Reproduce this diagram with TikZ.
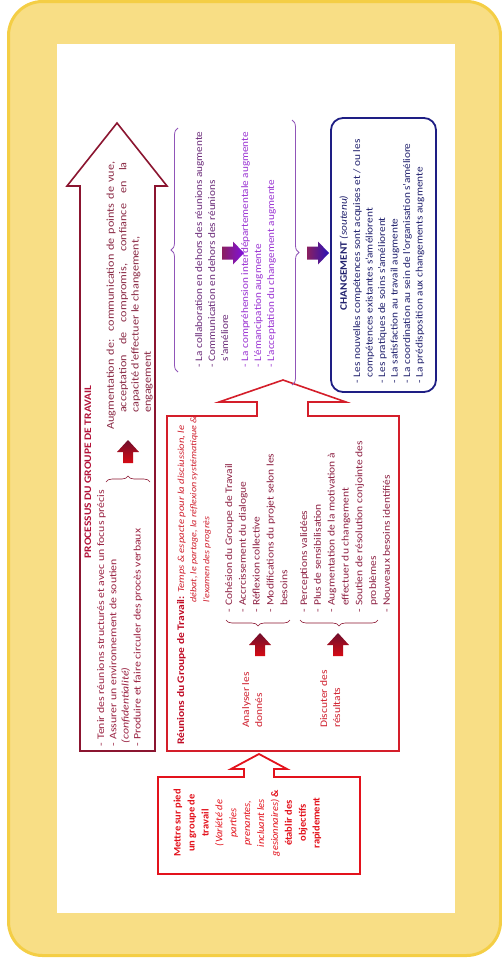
\documentclass[tikz,border=0pt]{standalone}
\usepackage{fontspec}
\setmainfont{Carlito}
\usetikzlibrary{decorations.pathreplacing}
\definecolor{framefill}{HTML}{F8DE85}
\definecolor{frameline}{HTML}{F4CE45}
\definecolor{maroonA}{HTML}{8B1530}
\definecolor{crimsonA}{HTML}{B3143A}
\definecolor{maroontxt}{HTML}{9A2342}
\definecolor{augtxt}{HTML}{8A2A45}
\definecolor{redB}{HTML}{D41E2A}
\definecolor{redC}{HTML}{E3121C}
\definecolor{redtxt}{HTML}{D0202E}
\definecolor{redbold}{HTML}{C00A24}
\definecolor{listtxt}{HTML}{8E2244}
\definecolor{arrdark}{HTML}{6E0F2C}
\definecolor{arrred}{HTML}{D60A14}
\definecolor{purpdark}{HTML}{6A2A78}
\definecolor{purpbright}{HTML}{9A32D2}
\definecolor{purpbrace}{HTML}{9055B8}
\definecolor{navyA}{HTML}{1E1E84}
\definecolor{navytxt}{HTML}{22226E}
\definecolor{pmaroon}{HTML}{8A2060}
\definecolor{pviolet}{HTML}{8010E0}
\definecolor{pblue}{HTML}{2A12B8}
\newcommand{\bul}{\makebox[6pt][l]{-}}
\newcommand{\indt}{\hspace*{6pt}}
\begin{document}
\begin{tikzpicture}[x=1pt,y=-1pt,
  txt/.style={rotate=90,inner sep=0pt,align=left,anchor=north west},
  bigline/.style={line width=1.6pt,line join=miter},
  thinbrace/.style={line width=0.6pt,decorate,decoration={brace,amplitude=6pt}},
  pbrace/.style={purpbrace,line width=0.8pt,decorate,decoration={brace,amplitude=7pt}},
  uparrow/.pic={\shade[top color=arrdark,bottom color=arrred]
     (0,-11.5) -- (11,0.5) -- (5,0.5) -- (5,11.5) -- (-5,11.5) -- (-5,0.5) -- (-11,0.5) -- cycle;},
  rarrowA/.pic={\shade[left color=pmaroon,right color=pviolet]
     (11,0) -- (0,-11.5) -- (0,-6.5) -- (-11,-6.5) -- (-11,6.5) -- (0,6.5) -- (0,11.5) -- cycle;},
  rarrowB/.pic={\shade[left color=pmaroon,right color=pblue]
     (11,0) -- (0,-11.5) -- (0,-6.5) -- (-11,-6.5) -- (-11,6.5) -- (0,6.5) -- (0,11.5) -- cycle;}
]
\useasboundingbox (0,0) rectangle (502,962);
% frame
\draw[frameline,fill=framefill,line width=3pt,rounded corners=34pt] (8.5,1.5) rectangle (500.5,955.5);
\fill[white] (57,44) rectangle (455,913);

% ---------- arrow 1 : processus ----------
\draw[maroonA,bigline] (80,751) -- (80,186) -- (67,186) -- (117,123) -- (167,186) -- (155,186) -- (155,751) -- cycle;
\node[rotate=90,xscale=1.14,inner sep=0pt,font=\fontsize{10}{12}\selectfont\bfseries,text=crimsonA] (ptitle) at (88,472) {PROCESSUS DU GROUPE DE TRAVAIL};
\node[txt,xscale=1.18,font=\fontsize{10}{12.2}\selectfont,text=maroontxt] (plist) at (97,747)
 {\bul Tenir des réunions structurés et avec un focus précis\\
  \bul Assurer un environnement de soutien\\
  \hspace*{3pt}\textit{(confidentialité)}\\
  \bul Produire et faire circuler des procès verbaux};
\draw[maroonA,thinbrace] (106,482) -- (150,482);
\pic at (128,451.5) {uparrow};
\node[txt,xscale=1.16,font=\fontsize{10.5}{12.3}\selectfont,text=augtxt] (paug) at (106.5,430)
 {\makebox[231pt][s]{Augmentation de:\ \ communication de points de vue,}\\
  \hspace*{14.6pt}\makebox[216pt][s]{acceptation de compromis, confiance en la}\\
  \hspace*{14.6pt}capacité d'effectuer le changement,\\
  \hspace*{14.6pt}engagement};

% ---------- arrow 2 : réunions ----------
\draw[redB,bigline] (167,751) -- (167,416) -- (257,416) -- (257,402) -- (219,402) -- (283,380) -- (346,402) -- (308,402) -- (308,416) -- (399,416) -- (399,751) -- cycle;
\node[txt,xscale=1.15,font=\fontsize{10}{13}\selectfont\bfseries,text=redbold] (rlab) at (177,745)
 {Réunions du Groupe de Travail:};
\node[rotate=90,xscale=1.15,inner sep=0pt,anchor=base west,xshift=2.5pt,font=\fontsize{9.3}{13}\selectfont\itshape,text=redtxt] (rit1) at (rlab.base east)
 {Temps \& espacte pour la disciussion, le};
\node[txt,xscale=1.15,font=\fontsize{8.8}{13}\selectfont\itshape,text=redtxt] (rit2) at (190,603)
 {débat, le partage, la réflexion systématique \&\\ l'examen des progrès};
\node[txt,xscale=1.15,font=\fontsize{10}{13}\selectfont,text=redtxt] (ranal) at (242,728) {Analyser les\\donnés};
\pic at (260,644.5) {uparrow};
\draw[maroonA,thinbrace] (290,620) -- (226,620);
\node[txt,xscale=1.15,font=\fontsize{10}{13.8}\selectfont,text=listtxt] (rlistA) at (225,613)
 {\bul Cohésion du Groupe de Travail\\
  \bul Accrcissement du dialogue\\
  \bul Réflexion collective\\
  \bul Modifications du projet selon les\\
  \indt besoins};
\node[txt,xscale=1.15,font=\fontsize{10}{13}\selectfont,text=redtxt] (rdisc) at (320,728) {Discuter des\\résultats};
\pic at (338,644.5) {uparrow};
\draw[maroonA,thinbrace] (378,620) -- (300,620);
\node[txt,xscale=1.15,font=\fontsize{10}{13.8}\selectfont,text=listtxt] (rlistB) at (300,613)
 {\bul Perceptions validées\\
  \bul Plus de sensibilisation\\
  \bul Augmentation de la motivation à\\
  \indt effectuer du changement\\
  \bul Soutien de résolution conjointe des\\
  \indt problèmes\\
  \bul Nouveaux besoins identifiés};

% ---------- arrow 3 : mettre sur pied ----------
\draw[redC,line width=1.8pt,line join=miter] (158,874) -- (158,777) -- (244,777) -- (244,769) -- (231,769) -- (259,754) -- (287,769) -- (274,769) -- (274,777) -- (360,777) -- (360,874) -- cycle;
\node[rotate=90,xscale=1.05,inner sep=0pt,align=center,anchor=north,font=\fontsize{10}{13.9}\selectfont,text=redC] (mettre) at (173.5,823)
 {\textbf{Mettre sur pied}\\ \textbf{un groupe de}\\ \textbf{travail}\\ \textit{(Variété de}\\ \textit{parties}\\
  \textit{prenantes,}\\ \textit{incluant les}\\ \textit{gesionnaires)} \textbf{\&}\\ \textbf{établir des}\\ \textbf{objectifs}\\ \textbf{rapidement}};

% ---------- purple block ----------
\draw[pbrace] (178,372) -- (178,128);
\node[txt,xscale=1.12,font=\fontsize{10}{13}\selectfont,text=purpdark] (purp) at (195,368)
 {\bul La collaboration en dehors des réunions augmente\\
  \bul Communication en dehors des réunions\\
  \indt s'améliore\\[7pt]
  \textcolor{purpbright}{\bul La compréhension interdépartementale augmente}\\
  \textcolor{purpbright}{\bul L'émancipation augmente}\\
  \textcolor{purpbright}{\bul L'acceptation du changement augmente}};
\pic at (233,253) {rarrowA};
\draw[pbrace] (292,120) -- (292,385);
\pic at (318,253) {rarrowB};

% ---------- changement ----------
\draw[navyA,line width=1.8pt,rounded corners=12pt] (331,118) rectangle (436,392);
\node[rotate=90,xscale=1.13,inner sep=0pt,font=\fontsize{10}{13}\selectfont,text=navytxt] (chtitle) at (344,253) {\textbf{CHANGEMENT} \textit{(soutenu)}};
\node[txt,xscale=1.13,font=\fontsize{10}{12.5}\selectfont,text=navytxt] (chlist) at (353,384)
 {\bul Les nouvelles compétences sont acquises et / ou les\\
  \indt compétences existantes s'améliorent\\
  \bul Les pratiques de soins s'améliorent\\
  \bul La satisfaction au travail augmente\\
  \bul La coordination au sein de l'organisation s'améliore\\
  \bul La prédisposition aux changements augmente};
\end{tikzpicture}
\end{document}
